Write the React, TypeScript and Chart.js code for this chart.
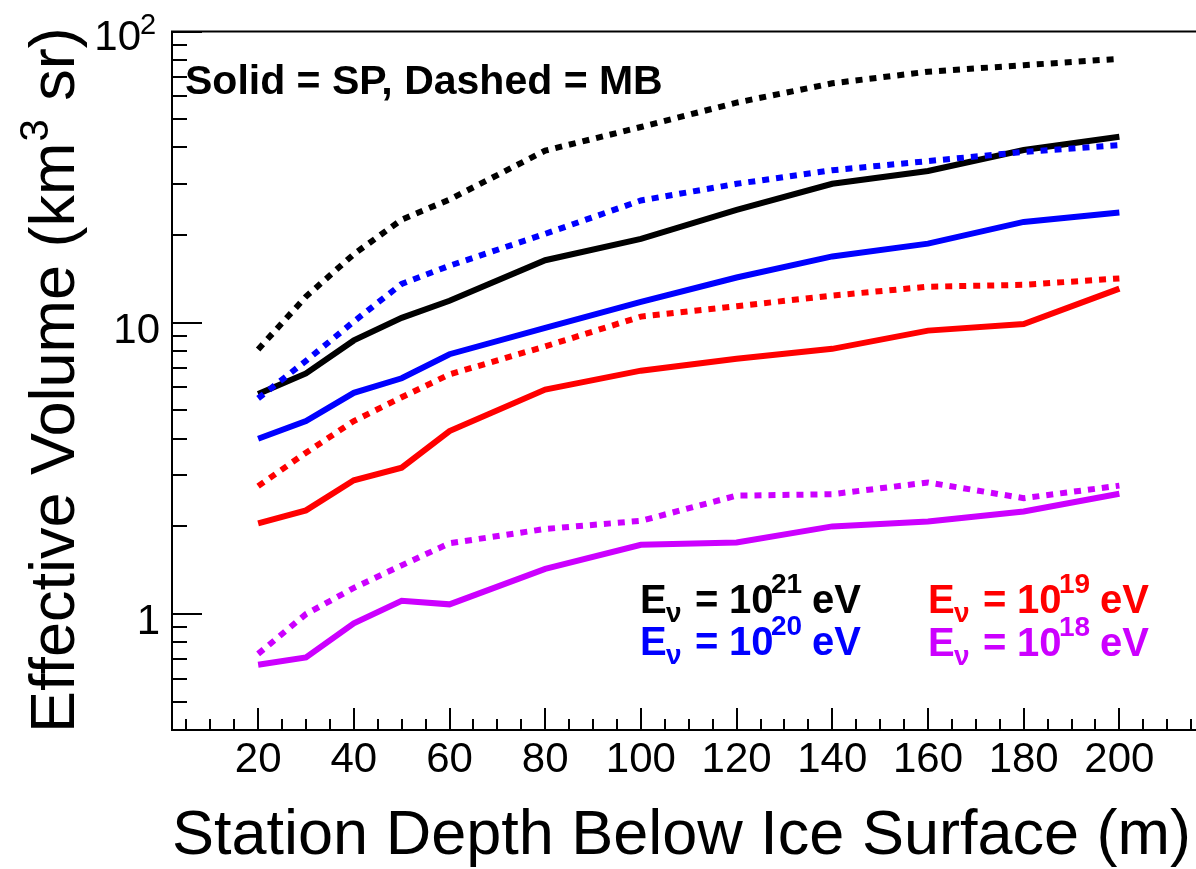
import React, { useEffect, useRef } from 'react';
import { Chart, registerables } from 'chart.js';

Chart.register(...registerables);

// ---- data ----
const depths = [20, 30, 40, 50, 60, 80, 100, 120, 140, 160, 180, 200];

const sp21 = [5.7, 6.7, 8.7, 10.4, 11.9, 16.4, 19.4, 24.4, 30.0, 33.2, 39.2, 43.5];
const mb21 = [8.1, 12.3, 17.2, 22.6, 26.5, 39.0, 47.0, 57.0, 66.4, 72.8, 76.6, 80.6];
const sp20 = [4.0, 4.6, 5.75, 6.45, 7.8, 9.6, 11.8, 14.3, 16.9, 18.7, 22.2, 23.9];
const mb20 = [5.5, 7.4, 10.1, 13.6, 15.7, 20.2, 26.3, 30.0, 33.4, 35.9, 38.6, 40.7];
const sp19 = [2.05, 2.27, 2.88, 3.18, 4.25, 5.9, 6.85, 7.52, 8.14, 9.4, 9.9, 13.1];
const mb19 = [2.75, 3.58, 4.6, 5.55, 6.65, 8.3, 10.5, 11.4, 12.4, 13.3, 13.5, 14.2];
const sp18 = [0.67, 0.71, 0.93, 1.11, 1.08, 1.43, 1.73, 1.76, 2.0, 2.08, 2.25, 2.59];
const mb18 = [0.73, 1.0, 1.23, 1.47, 1.75, 1.96, 2.09, 2.55, 2.58, 2.83, 2.5, 2.76];

const xMajorTicks = [20, 40, 60, 80, 100, 120, 140, 160, 180, 200];
const xMajorLabels = ['20', '40', '60', '80', '100', '120', '140', '160', '180', '200'];
const xMinorTicks = [5, 10, 15, 25, 30, 35, 45, 50, 55, 65, 70, 75, 85, 90, 95, 105, 110, 115, 125, 130, 135, 145, 150, 155, 165, 170, 175, 185, 190, 195, 205, 210, 215];
const yMajorTicks = [1, 10, 100];
const yMinorTicks = [0.5, 0.6, 0.7, 0.8, 0.9, 2, 3, 4, 5, 6, 7, 8, 9, 20, 30, 40, 50, 60, 70, 80, 90];

const titleText = 'Solid = SP, Dashed = MB';
const xTitle = 'Station Depth Below Ice Surface (m)';
const yTitleMain = 'Effective Volume (km';
const yTitleSup = '3';
const yTitleEnd = ' sr)';

const COL_BLACK = '#000000';
const COL_BLUE = '#0000ff';
const COL_RED = '#ff0000';
const COL_MAG = '#cc00ff';

const FONT = '"Liberation Sans", Arial, Helvetica, sans-serif';

const toXY = (arr: number[]) => depths.map((d, i) => ({ x: d, y: arr[i] }));

function drawEnergyLabel(ctx: CanvasRenderingContext2D, x0: number, b: number, color: string, exp: string) {
  ctx.fillStyle = color;
  ctx.textAlign = 'left';
  ctx.textBaseline = 'alphabetic';
  ctx.font = `bold 40px ${FONT}`;
  ctx.fillText('E', x0 - 3, b);
  ctx.font = `bold 28px ${FONT}`;
  ctx.fillText('\u03bd', x0 + 23, b + 9);
  ctx.font = `bold 40px ${FONT}`;
  ctx.fillText('=', x0 + 52, b);
  ctx.fillText('10', x0 + 86, b);
  ctx.font = `bold 28px ${FONT}`;
  ctx.fillText(exp, x0 + 128, b - 20);
  ctx.font = `bold 40px ${FONT}`;
  ctx.fillText('eV', x0 + 169, b);
}

const rootAxes = {
  id: 'rootAxes',
  afterDraw(chart: any) {
    const ctx: CanvasRenderingContext2D = chart.ctx;
    const a = chart.chartArea;
    const xs = chart.scales.x;
    const ys = chart.scales.y;
    ctx.save();
    ctx.strokeStyle = '#000';
    ctx.lineWidth = 2;
    ctx.lineCap = 'butt';
    // frame
    ctx.strokeRect(a.left, a.top, a.right - a.left, a.bottom - a.top);
    // x ticks
    ctx.beginPath();
    xMajorTicks.forEach((v) => {
      const px = Math.round(xs.getPixelForValue(v));
      ctx.moveTo(px, a.bottom);
      ctx.lineTo(px, a.bottom - 22);
    });
    xMinorTicks.forEach((v) => {
      const px = Math.round(xs.getPixelForValue(v));
      ctx.moveTo(px, a.bottom);
      ctx.lineTo(px, a.bottom - 11);
    });
    // y ticks
    yMajorTicks.forEach((v) => {
      const py = Math.round(ys.getPixelForValue(v));
      ctx.moveTo(a.left, py);
      ctx.lineTo(a.left + 30, py);
    });
    yMinorTicks.forEach((v) => {
      const py = Math.round(ys.getPixelForValue(v));
      ctx.moveTo(a.left, py);
      ctx.lineTo(a.left + 15, py);
    });
    ctx.stroke();

    // x labels
    ctx.fillStyle = '#000';
    ctx.font = `42px ${FONT}`;
    ctx.textAlign = 'center';
    ctx.textBaseline = 'alphabetic';
    xMajorTicks.forEach((v, i) => {
      const px = xs.getPixelForValue(v);
      ctx.fillText(xMajorLabels[i], px, a.bottom + 42);
    });

    // y labels
    ctx.textAlign = 'right';
    const p1 = ys.getPixelForValue(yMajorTicks[0]);
    ctx.fillText('1', 160, p1 + 20);
    const p10 = ys.getPixelForValue(yMajorTicks[1]);
    ctx.fillText('10', 160, p10 + 20);
    const p100 = ys.getPixelForValue(yMajorTicks[2]);
    ctx.fillText('10', 141, p100 + 18);
    ctx.textAlign = 'left';
    ctx.font = `29px ${FONT}`;
    ctx.fillText('2', 140, p100 + 2);

    // x title
    ctx.font = `63px ${FONT}`;
    ctx.textAlign = 'left';
    ctx.fillText(xTitle, 172, 854);

    // y title (rotated)
    ctx.save();
    ctx.translate(74, 733);
    ctx.rotate(-Math.PI / 2);
    ctx.font = `63px ${FONT}`;
    ctx.textAlign = 'left';
    ctx.fillText(yTitleMain, 0, 0);
    const w1 = ctx.measureText(yTitleMain).width;
    ctx.font = `40px ${FONT}`;
    ctx.fillText(yTitleSup, w1 + 1, -26);
    const w2 = ctx.measureText(yTitleSup).width;
    ctx.font = `63px ${FONT}`;
    ctx.fillText(yTitleEnd, w1 + w2 + 2, 0);
    ctx.restore();

    // annotation
    ctx.font = `bold 41px ${FONT}`;
    ctx.fillStyle = '#000';
    ctx.fillText(titleText, 185, 94);

    // energy labels
    drawEnergyLabel(ctx, 643, 613, COL_BLACK, '21');
    drawEnergyLabel(ctx, 643, 655, COL_BLUE, '20');
    drawEnergyLabel(ctx, 931, 613, COL_RED, '19');
    drawEnergyLabel(ctx, 931, 656, COL_MAG, '18');

    ctx.restore();
  },
};

function makeDs(label: string, arr: number[], color: string, dotted: boolean) {
  return {
    label,
    data: toXY(arr),
    borderColor: color,
    backgroundColor: color,
    borderWidth: 6,
    borderDash: dotted ? [7, 7] : [],
    borderCapStyle: 'butt' as const,
    borderJoinStyle: 'miter' as const,
    pointRadius: 0,
    tension: 0,
    fill: false,
  };
}

export default function App() {
  const ref = useRef<HTMLCanvasElement | null>(null);

  useEffect(() => {
    if (!ref.current) return;
    const chart = new Chart(ref.current, {
      type: 'line',
      data: {
        datasets: [
          makeDs('MB 1e21', mb21, COL_BLACK, true),
          makeDs('MB 1e20', mb20, COL_BLUE, true),
          makeDs('MB 1e19', mb19, COL_RED, true),
          makeDs('MB 1e18', mb18, COL_MAG, true),
          makeDs('SP 1e21', sp21, COL_BLACK, false),
          makeDs('SP 1e20', sp20, COL_BLUE, false),
          makeDs('SP 1e19', sp19, COL_RED, false),
          makeDs('SP 1e18', sp18, COL_MAG, false),
        ],
      },
      options: {
        responsive: false,
        animation: false,
        devicePixelRatio: 1,
        layout: { padding: { left: 172, right: 14.5, top: 31.5, bottom: 139 } },
        plugins: { legend: { display: false }, tooltip: { enabled: false }, title: { display: false } },
        scales: {
          x: { type: 'linear', min: 2, max: 218, display: false },
          y: { type: 'logarithmic', min: 0.4, max: 100, display: false },
        },
      },
      plugins: [rootAxes],
    });
    return () => chart.destroy();
  }, []);

  return (
    <div style={{ position: 'fixed', left: 0, top: 0, width: 1196, height: 869, overflow: 'hidden', background: '#fff' }}>
      <canvas ref={ref} width={1220} height={869} style={{ display: 'block', width: 1220, height: 869 }} />
    </div>
  );
}
